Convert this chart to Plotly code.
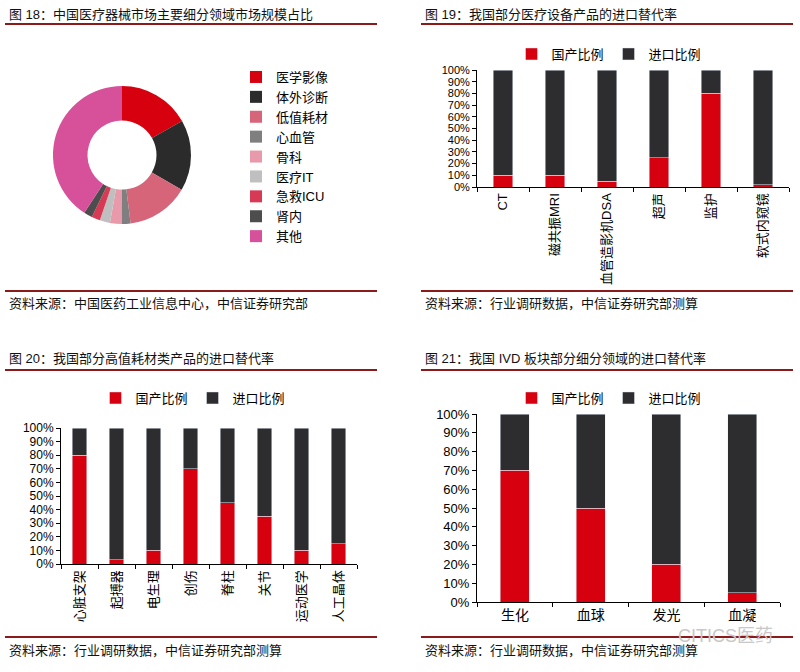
import plotly.graph_objects as go

W, H = 800, 672

FONT = "Liberation Sans, Noto Sans CJK SC, sans-serif"
RED = "#D7000F"
DARK = "#2D2D30"
RULE = "#8B1A1A"

# ---- data ----
pie_labels = ["医学影像", "体外诊断", "低值耗材", "心血管", "骨科", "医疗IT", "急救ICU", "肾内", "其他"]
pie_values = [16.8, 16.6, 14.6, 2.0, 2.8, 2.4, 2.0, 2.0, 40.8]
pie_colors = ["#D7000F", "#2B2B2B", "#D6657A", "#7F7F7F", "#E89AAB",
              "#BFBFBF", "#D63A55", "#4D4D4D", "#D6509A"]

equip_cats = ["CT", "磁共振MRI", "血管造影机DSA", "超声", "监护", "软式内窥镜"]
equip_domestic = [0.10, 0.10, 0.05, 0.25, 0.80, 0.02]
equip_import = [0.90, 0.90, 0.95, 0.75, 0.20, 0.98]

cons_cats = ["心脏支架", "起搏器", "电生理", "创伤", "脊柱", "关节", "运动医学", "人工晶体"]
cons_domestic = [0.80, 0.03, 0.10, 0.70, 0.45, 0.35, 0.10, 0.15]
cons_import = [0.20, 0.97, 0.90, 0.30, 0.55, 0.65, 0.90, 0.85]

ivd_cats = ["生化", "血球", "发光", "血凝"]
ivd_domestic = [0.70, 0.50, 0.20, 0.05]
ivd_import = [0.30, 0.50, 0.80, 0.95]

pct_ticks = [i / 10 for i in range(11)]

titles = [
    ("图 18：中国医疗器械市场主要细分领域市场规模占比", 7, 14),
    ("图 19：我国部分医疗设备产品的进口替代率", 423, 14),
    ("图 20：我国部分高值耗材类产品的进口替代率", 7, 358),
    ("图 21：我国 IVD 板块部分细分领域的进口替代率", 423, 358),
]
sources = [
    ("资料来源：中国医药工业信息中心，中信证券研究部", 7, 303),
    ("资料来源：行业调研数据，中信证券研究部测算", 423, 303),
    ("资料来源：行业调研数据，中信证券研究部测算", 7, 650),
    ("资料来源：行业调研数据，中信证券研究部测算", 423, 650),
]
# (x0, x1, y) in pixels
rules = [(5, 377, 24), (421, 793, 24), (5, 377, 291), (421, 793, 291),
         (5, 377, 370), (421, 793, 370), (5, 377, 637), (421, 793, 637)]


def fx(x):
    return x / W


def fy(y):
    return 1 - y / H


fig = go.Figure()

fig.add_trace(go.Pie(
    labels=pie_labels,
    values=pie_values,
    marker=dict(colors=pie_colors, line=dict(width=0)),
    hole=0.5,
    sort=False,
    direction="clockwise",
    rotation=0,
    textinfo="none",
    domain=dict(x=[fx(53), fx(191)], y=[fy(224), fy(86)]),
    legend="legend",
))

panels = [
    (equip_cats, equip_domestic, equip_import, "x", "y", "legend2"),
    (cons_cats, cons_domestic, cons_import, "x2", "y2", "legend3"),
    (ivd_cats, ivd_domestic, ivd_import, "x3", "y3", "legend4"),
]
for cats, dom, imp, xa, ya, lg in panels:
    fig.add_trace(go.Bar(x=cats, y=dom, name="国产比例", marker_color=RED,
                         xaxis=xa, yaxis=ya, legend=lg))
    fig.add_trace(go.Bar(x=cats, y=imp, name="进口比例", marker_color=DARK,
                         xaxis=xa, yaxis=ya, legend=lg))

axis_common = dict(
    showline=True, linecolor="black", linewidth=1,
    ticks="outside", ticklen=4, tickcolor="black",
    showgrid=False, zeroline=False, fixedrange=True, automargin=False,
    tickfont=dict(family=FONT, size=13, color="black"),
)
yaxis_common = dict(axis_common, range=[0, 1], tickvals=pct_ticks, tickformat=".0%")

bar_legend = dict(xanchor="center", yanchor="middle", orientation="h",
                  font=dict(size=13), itemwidth=30, traceorder="normal")

fig.update_layout(
    width=W, height=H,
    margin=dict(l=0, r=0, t=0, b=0, autoexpand=False),
    paper_bgcolor="white", plot_bgcolor="white",
    font=dict(family=FONT, size=13, color="black"),
    barmode="stack",
    bargap=0.62,
    xaxis=dict(axis_common, domain=[fx(477), fx(789)], anchor="y",
               tickson="boundaries", tickangle=-90),
    yaxis=dict(yaxis_common, domain=[fy(187), fy(70)], anchor="x",
               tickfont=dict(family=FONT, size=11, color="black")),
    xaxis2=dict(axis_common, domain=[fx(61), fx(357)], anchor="y2",
                tickson="boundaries", tickangle=-90),
    yaxis2=dict(yaxis_common, domain=[fy(564), fy(428)], anchor="x2",
                tickfont=dict(family=FONT, size=12, color="black")),
    xaxis3=dict(axis_common, domain=[fx(477), fx(780)], anchor="y3",
                tickson="boundaries", tickangle=0,
                tickfont=dict(family=FONT, size=14, color="black")),
    yaxis3=dict(yaxis_common, domain=[fy(602), fy(414)], anchor="x3"),
    legend=dict(x=fx(236), y=fy(62), xanchor="left", yanchor="top",
                orientation="v", font=dict(size=13), itemclick=False),
    legend2=dict(bar_legend, x=fx(609), y=fy(54)),
    legend3=dict(bar_legend, x=fx(193), y=fy(398)),
    legend4=dict(bar_legend, x=fx(609), y=fy(398)),
)

for text, x, y in titles + sources:
    fig.add_annotation(text=text, x=fx(x), y=fy(y), xref="paper", yref="paper",
                       xanchor="left", yanchor="middle", showarrow=False,
                       font=dict(family=FONT, size=13, color="#111111"))

for x0, x1, y in rules:
    fig.add_shape(type="line", xref="paper", yref="paper",
                  x0=fx(x0), x1=fx(x1), y0=fy(y), y1=fy(y),
                  line=dict(color=RULE, width=2))

# watermark
fig.add_annotation(text="CITICS医药", x=fx(775), y=fy(636), xref="paper", yref="paper",
                   xanchor="right", yanchor="middle", showarrow=False,
                   font=dict(family=FONT, size=18, color="#C8C8C8"))

fig.write_html("out.html", config={"displayModeBar": False},
               post_script="document.body.style.margin='0';")
